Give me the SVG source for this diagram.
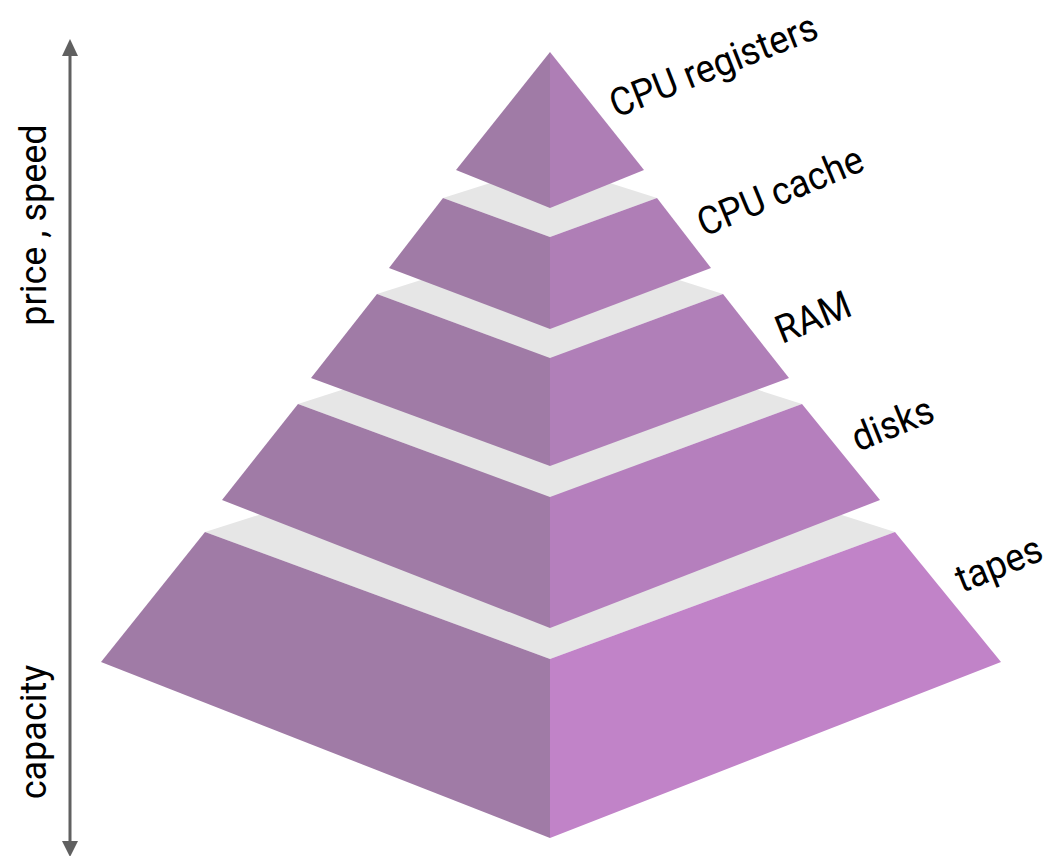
<svg xmlns="http://www.w3.org/2000/svg" width="1051" height="856" viewBox="0 0 1051 856">
<style>
.lf{fill:#A07BA6}
.top{fill:#E6E6E6}
.lbl{font-family:Roboto,"Liberation Sans",sans-serif;font-size:36px;fill:#000}
.lbl2{font-family:Roboto,"Liberation Sans",sans-serif;font-size:39px;fill:#000}
.axis{stroke:#606060;stroke-width:3;fill:none}
.head{fill:#606060}
</style>
<rect width="1051" height="856" fill="#FFFFFF"/>
<g id="tapes">
<polygon class="top" points="205,532 550,422 895,532 550,659"/>
<polygon class="lf" points="205,532 550,659 550,838 101,662"/>
<polygon points="550,659 895,532 1001,662 550,838" fill="#C183C8"/>
<text class="lbl2" transform="translate(962,593) rotate(-22) scale(0.93,1)">tapes</text>
</g>
<g id="disks">
<polygon class="top" points="298,404 550,323 802,404 550,497"/>
<polygon class="lf" points="298,404 550,497 550,628 222,500"/>
<polygon points="550,497 802,404 880,500 550,628" fill="#B57FBD"/>
<text class="lbl2" transform="translate(858,452) rotate(-22) scale(0.93,1)">disks</text>
</g>
<g id="ram">
<polygon class="top" points="377,294 550,239 723,294 550,358"/>
<polygon class="lf" points="377,294 550,358 550,466 311,378"/>
<polygon points="550,358 723,294 789,378 550,466" fill="#B07FB8"/>
<text class="lbl2" transform="translate(782,344) rotate(-22) scale(0.93,1)">RAM</text>
</g>
<g id="cpu-cache">
<polygon class="top" points="443,198 550,164 657,198 550,237"/>
<polygon class="lf" points="443,198 550,237 550,329 389,268"/>
<polygon points="550,237 657,198 711,268 550,329" fill="#AF7EB6"/>
<text class="lbl2" transform="translate(704,237) rotate(-22.5) scale(0.93,1)">CPU cache</text>
</g>
<g id="cpu-registers">
<polygon class="lf" points="550,52 550,208 456,170"/>
<polygon points="550,52 644,170 550,208" fill="#AE7EB5"/>
<text class="lbl2" transform="translate(616,118) rotate(-21.5) scale(0.93,1)">CPU registers</text>
</g>
<g id="axis-labels">
<text class="lbl" text-anchor="middle" transform="translate(46,225) rotate(-90)">price , speed</text>
<text class="lbl" text-anchor="middle" transform="translate(46,732) rotate(-90)">capacity</text>
</g>
<g id="connectors">
<line class="axis" x1="70" y1="52" x2="70" y2="845"/>
<polygon class="head" points="70,39 62,56 78,56"/>
<polygon class="head" points="70,857 62,841 78,841"/>
</g>
</svg>
